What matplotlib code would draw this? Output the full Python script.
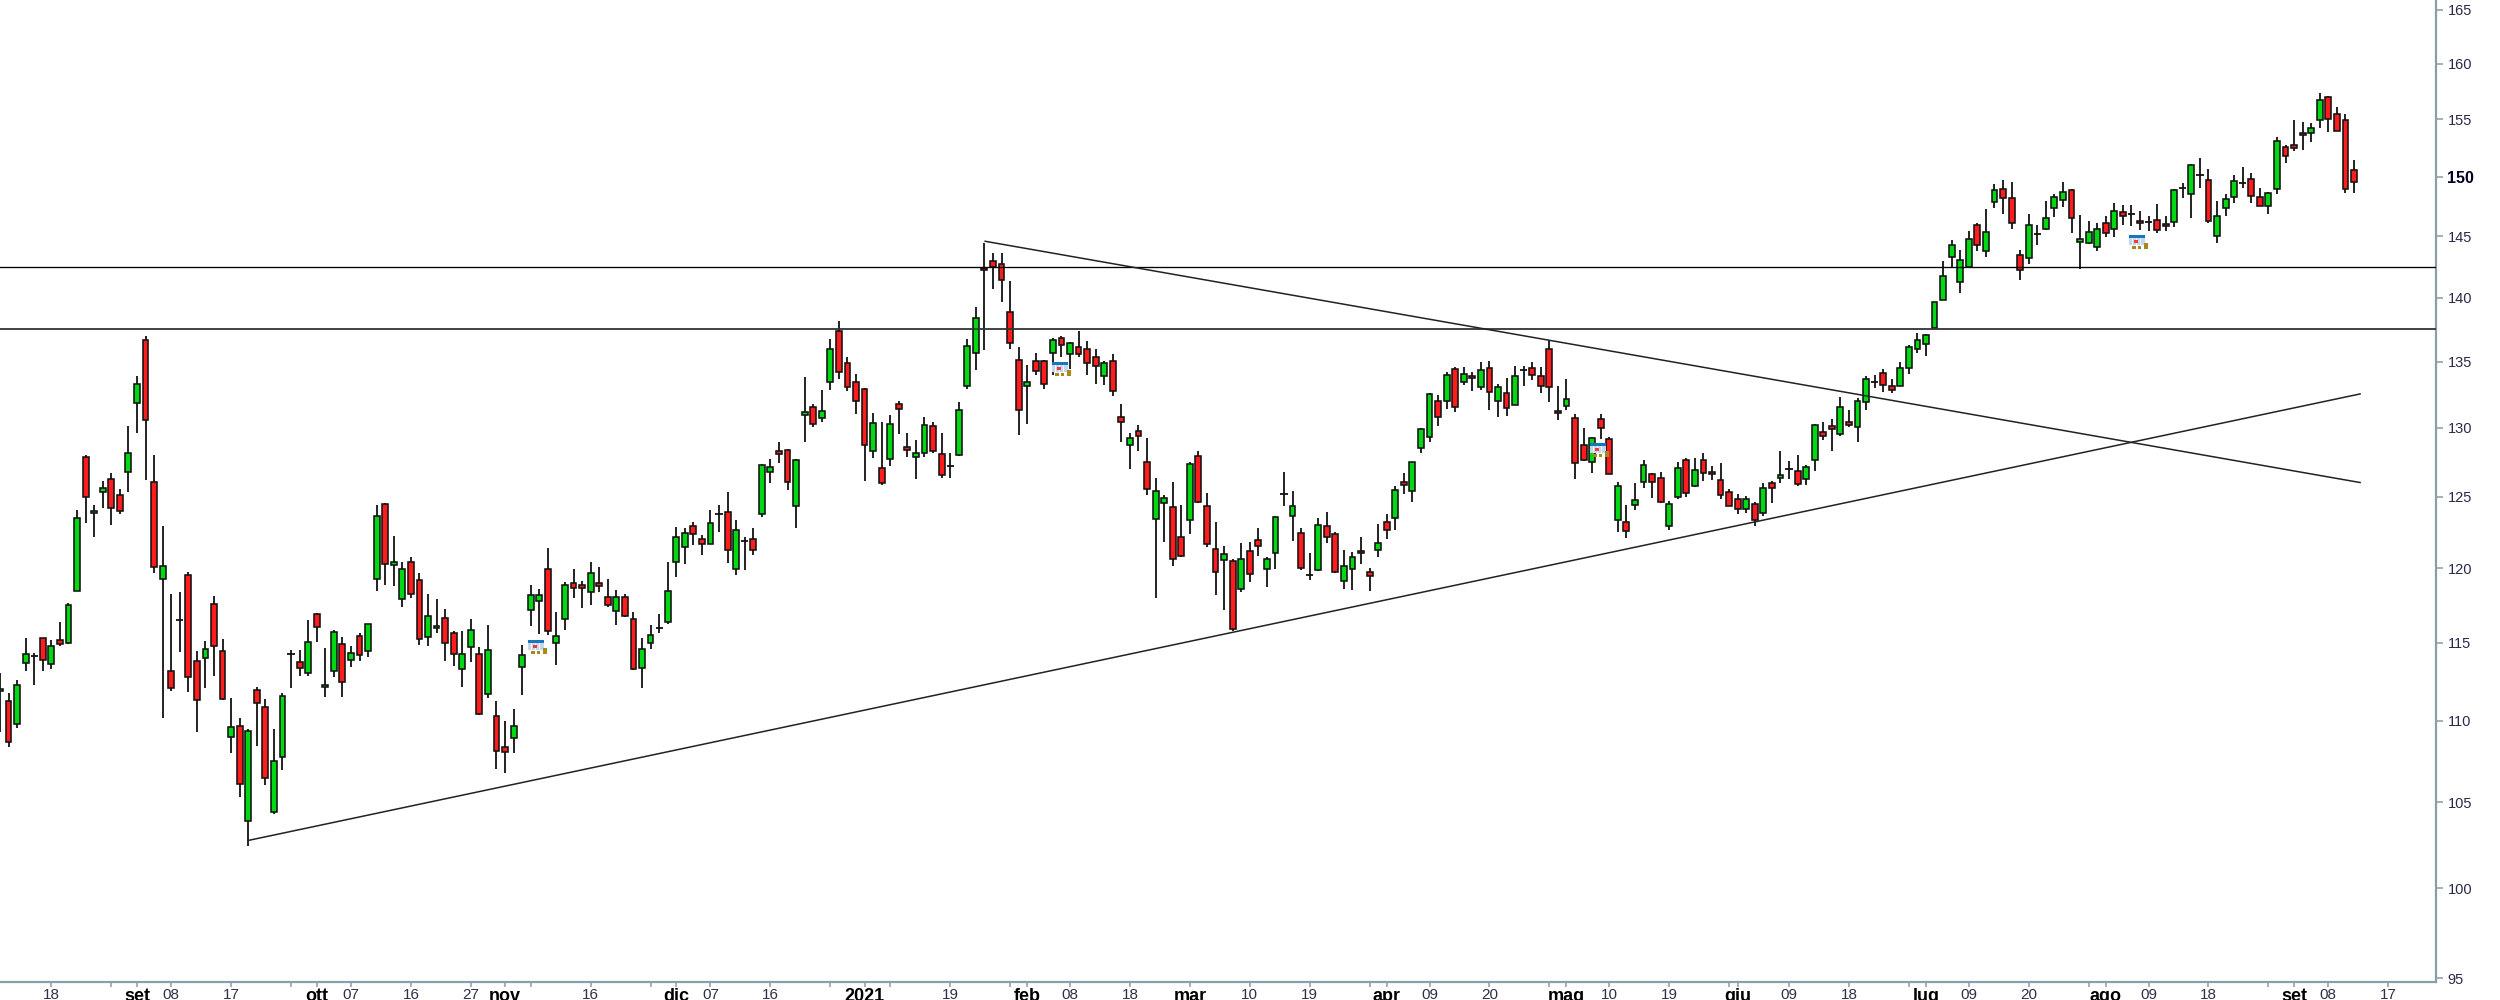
import numpy as np
import matplotlib
matplotlib.use("Agg")
import matplotlib.pyplot as plt
from matplotlib.offsetbox import OffsetImage, AnnotationBbox
from matplotlib.ticker import FixedLocator, NullLocator, FixedFormatter
from matplotlib import font_manager as fm

# (open, high, low, close) per session
aug_2020 = [(111.87,113.06,109.32,112.03),(111.23,111.74,108.40,108.71),(109.80,112.58,109.58,112.28),(113.72,115.29,113.17,114.27),(114.13,114.32,112.26,114.13),(115.29,115.33,113.17,113.86),(113.63,115.19,113.29,114.77),(115.19,116.39,114.82,114.91),(115.0,117.63,114.95,117.49),(118.44,124.08,118.44,123.51),(127.86,127.97,123.13,125.0),(123.86,124.38,122.19,123.98),(125.31,126.12,124.2,125.63),(126.28,126.69,122.96,124.18),(125.13,125.57,123.76,124.0),(126.77,130.16,125.34,128.18)]
sep_2020 = [(131.88,133.9,129.64,133.28),(136.69,137.02,126.17,130.56),(126.02,127.97,119.67,120.07),(119.26,122.94,110.16,120.12),(113.2,118.23,111.92,112.1),(116.53,118.4,114.43,116.53),(119.55,119.71,111.8,112.81),(113.84,114.5,109.28,111.32),(114.0,115.12,112.08,114.61),(117.56,118.11,112.83,114.77),(114.47,115.24,111.3,111.37),(109.01,111.46,108.0,109.63),(109.69,110.2,105.33,106.12),(103.87,109.47,102.43,109.36),(111.94,112.17,108.44,111.12),(110.87,111.39,106.03,106.47),(104.44,109.5,104.31,107.52),(107.74,111.74,106.95,111.58),(114.25,114.54,112.08,114.25),(113.77,114.54,112.83,113.38),(113.06,116.53,112.83,115.05)]
oct_2020 = [(116.89,116.96,115.05,116.03),(112.17,114.66,111.51,112.28),(113.15,115.86,112.76,115.72),(114.91,115.36,111.53,112.44),(113.86,114.77,113.4,114.34),(115.48,115.65,113.81,114.2),(114.47,116.24,114.09,116.22),(119.26,124.38,118.47,123.61),(124.45,124.53,118.88,120.32),(120.22,122.21,118.78,120.4),(117.94,120.4,117.39,119.93),(120.45,120.77,117.99,118.23),(119.19,119.67,114.89,115.24),(115.36,118.23,114.82,116.75),(115.96,117.94,115.67,116.08),(116.67,117.27,113.81,115.0),(115.65,115.77,113.52,114.29),(113.29,115.77,112.15,114.27),(114.72,116.56,113.74,115.84),(114.27,114.7,110.39,110.46),(111.69,116.15,111.46,114.54),(110.31,111.27,107.05,108.15)]
nov_2020 = [(108.4,110.0,106.75,108.08),(108.95,110.75,108.0,109.69),(113.45,114.87,111.66,114.18),(117.21,118.84,116.09,118.21),(117.79,118.62,115.56,118.15),(119.93,121.4,115.49,115.8),(114.98,117.05,113.55,115.42),(116.61,119.04,115.85,118.88),(119.02,119.93,117.99,118.68),(118.88,119.1,117.32,118.68),(118.39,120.4,117.54,119.69),(118.97,120.09,118.37,118.82),(118.08,119.26,117.39,117.5),(117.08,118.55,116.2,118.08),(118.08,118.26,116.72,116.76),(116.58,117.05,113.23,113.27),(113.38,115.29,112.07,114.62),(114.98,116.16,114.62,115.49),(116.0,116.92,115.62,116.0),(116.38,120.42,116.23,118.44)]
dec_2020 = [(120.4,122.86,119.4,122.14),(121.49,122.79,120.28,122.44),(122.91,123.19,121.6,122.4),(122.0,122.33,120.88,121.7),(121.7,124.02,121.68,123.14),(123.79,124.42,122.51,123.79),(123.91,125.34,120.35,121.26),(119.93,123.33,119.53,122.67),(121.86,122.16,119.91,121.86),(122.0,122.79,120.88,121.26),(123.79,127.35,123.53,127.28),(126.79,127.74,125.94,127.16),(128.26,128.94,127.4,128.04),(128.35,128.43,125.46,126.04),(124.37,127.69,122.81,127.64),(130.98,133.82,128.98,131.18),(131.54,131.79,130.08,130.3),(130.71,132.83,130.43,131.28),(133.41,136.73,132.86,135.99),(137.36,138.19,133.69,134.24),(134.87,135.34,132.78,133.06),(133.46,134.07,131.0,132.04)]
jan_2021 = [(132.88,132.96,126.09,128.77),(128.28,131.13,127.77,130.38),(127.08,130.4,125.8,125.94),(127.72,130.96,127.23,130.28),(131.79,131.97,129.54,131.39),(128.6,129.59,127.85,128.35),(127.87,129.1,126.26,128.18),(128.13,130.81,127.85,130.2),(130.13,130.4,128.13,128.26),(128.11,129.59,126.33,126.55),(127.23,128.13,126.33,127.23),(128.01,131.9,127.94,131.36),(133.11,136.73,132.93,136.18),(135.65,139.24,134.37,138.43),(142.4,144.43,135.91,142.21),(142.94,143.64,140.72,142.51),(142.75,143.64,139.68,141.45),(138.85,141.35,136.0,136.44),(135.13,136.13,129.5,131.3)]
feb_2021 = [(133.16,134.75,130.28,133.46),(135.03,135.65,133.94,134.32),(135.03,135.13,132.93,133.31),(135.65,136.81,133.97,136.7),(136.86,136.96,135.39,136.28),(135.57,136.52,134.45,136.44),(136.15,137.38,135.39,135.6),(136.0,136.57,133.94,134.87),(135.39,135.94,133.26,134.65),(133.92,135.08,133.19,134.87),(135.03,135.58,132.35,132.73),(130.78,131.81,128.98,130.4),(128.77,129.59,126.99,129.23),(129.78,130.23,128.33,129.39),(127.47,129.25,125.14,125.58),(123.4,126.31,118.0,125.39),(124.53,125.1,121.84,124.93),(124.23,126.07,120.12,120.63),(122.14,124.42,120.77,120.86)]
mar_2021 = [(123.33,127.47,122.37,127.32),(127.95,128.32,124.58,124.65),(124.37,125.24,121.47,121.7),(121.3,123.19,118.21,119.73),(120.54,121.56,117.17,121.0),(120.51,120.6,115.76,115.92),(118.62,121.74,118.37,120.65),(121.16,121.79,119.04,119.58),(121.93,122.79,120.81,121.56),(119.93,120.77,118.73,120.63),(121.02,123.6,119.98,123.56),(125.19,126.77,124.3,125.19),(123.63,125.43,121.91,124.3),(122.47,122.79,119.91,120.05),(119.51,121.05,119.22,119.51),(119.91,123.49,119.84,123.0),(122.93,123.88,121.74,122.16),(122.4,122.49,119.67,119.71),(119.13,121.23,118.59,120.14),(119.96,121.12,118.5,120.74),(121.21,122.16,120.3,121.02),(119.71,120.05,118.44,119.49),(121.26,123.09,120.74,121.77)]
apr_2021 = [(123.21,123.79,122.05,122.63),(123.49,125.73,122.67,125.46),(126.02,126.7,125.19,125.82),(125.41,127.47,124.65,127.47),(128.51,129.98,128.12,129.88),(129.3,132.64,128.98,132.54),(132.02,132.42,130.1,130.78),(132.0,134.24,131.44,133.97),(134.45,134.57,131.19,131.54),(133.41,134.57,133.19,134.03),(133.87,134.24,132.77,133.74),(133.06,135.0,132.85,134.37),(134.55,135.08,131.36,132.66),(131.97,133.31,130.83,133.04),(132.61,133.74,130.91,131.47),(131.73,134.67,131.71,133.87),(134.37,134.67,133.11,134.37),(134.53,135.0,133.61,133.94),(133.87,134.56,132.61,133.14),(135.99,136.7,131.96,133.06),(131.27,133.16,130.58,131.07)]
may_2021 = [(131.65,133.66,131.35,132.15),(130.71,131.06,126.26,127.42),(128.74,129.97,127.55,127.65),(127.48,129.33,126.69,129.27),(130.63,131.06,129.19,129.97),(129.15,129.35,126.6,126.62),(123.33,126.04,122.51,125.73),(123.23,124.42,122.07,122.56),(124.4,125.99,124.02,124.77),(126.04,127.66,125.63,127.25),(126.62,126.69,124.91,126.04),(126.36,126.77,124.53,124.6),(122.91,124.7,122.67,124.47),(125.0,127.47,124.84,127.08),(127.64,127.8,125.0,125.24),(125.77,127.76,125.7,126.91),(127.64,128.15,126.09,126.69),(126.77,127.18,126.16,126.62),(126.19,127.42,124.84,125.09),(125.3,125.56,124.3,124.37)]
jun_2021 = [(124.84,125.17,123.74,124.12),(124.12,125.02,123.84,124.84),(124.47,124.63,122.91,123.33),(123.84,125.99,123.6,125.63),(125.97,126.14,124.58,125.65),(126.36,128.3,125.94,126.55),(126.99,127.59,126.26,126.99),(126.82,127.98,125.73,125.9),(126.28,127.28,125.85,127.15),(127.64,130.3,126.82,130.23),(129.71,130.4,129.13,129.42),(130.1,130.65,128.26,129.88),(129.54,132.33,129.39,131.54),(130.45,131.33,130.08,130.23),(130.05,132.2,128.98,132.04),(131.9,133.87,131.35,133.66),(133.48,134.0,132.96,133.48),(134.16,134.4,132.66,133.18),(133.16,133.66,132.61,132.86),(133.16,134.97,133.11,134.53),(134.55,136.26,134.06,136.1),(135.94,137.23,135.63,136.65)]
jul_2021 = [(136.36,137.15,135.47,137.04),(137.64,139.7,137.64,139.7),(139.81,143.0,139.81,141.78),(143.3,144.67,142.37,144.27),(141.31,143.89,140.38,143.02),(142.51,145.42,142.37,144.81),(145.92,146.14,143.75,144.27),(143.83,147.27,143.34,145.36),(147.88,149.37,147.38,148.86),(148.97,149.73,146.85,148.24),(148.22,149.54,145.61,146.09),(143.46,143.86,141.41,142.22),(143.19,146.84,142.73,145.92),(145.22,145.92,144.32,145.22),(145.61,147.96,145.53,146.56),(147.32,148.52,146.62,148.32),(148.07,149.53,147.43,148.69),(148.88,148.94,145.25,146.56),(144.54,146.76,142.32,144.76),(144.43,146.31,144.35,145.36),(144.11,146.12,143.81,145.64)]
aug_2021 = [(146.09,146.7,144.97,145.31),(145.59,147.77,144.92,147.12),(147.04,147.6,145.95,146.65),(146.82,147.6,145.89,146.82),(146.28,147.12,145.53,146.09),(146.17,146.7,145.45,146.17),(146.37,147.68,145.25,145.56),(146.01,146.7,145.45,145.87),(146.17,148.97,145.81,148.88),(149.05,149.44,148.21,149.05),(148.52,151.13,146.48,151.05),(150.2,151.63,149.05,150.2),(149.69,150.67,146.09,146.28),(145.0,147.96,144.43,146.65),(147.4,148.52,146.73,148.13),(148.32,150.2,147.82,149.61),(149.5,150.87,149.02,149.5),(149.8,150.29,147.74,148.35),(148.32,149.08,147.49,147.51),(147.51,148.69,146.82,148.6),(148.97,153.46,148.55,153.08),(152.56,152.76,151.22,151.83)]
sep_2021 = [(152.76,154.91,152.27,152.5),(153.84,154.74,152.35,153.63),(153.78,154.65,153.02,154.22),(154.91,157.31,154.27,156.68),(156.98,157.07,153.92,155.06),(155.48,156.11,153.95,154.01),(154.97,155.51,148.66,148.97),(150.55,151.48,148.66,149.53)]

levels = [137.55, 142.45]
rising_line = ([29, 275.8], [102.75, 132.55])
falling_line = ([115, 275.8], [144.6, 126.0])
event_icons = [(62.9, 114.74), (124.06, 134.4), (186.9, 128.39), (249.9, 144.54)]

y_ticks = [95,100,105,110,115,120,125,130,135,140,145,150,155,160,165]
x_ticks = [6,13,16,20,27,34,37,41,48,55,59,62,69,76,79,83,90,97,101,104,111,118,120,125,132,139,146,153,160,162,167,174,181,183,188,195,202,203,209,216,223,225,230,237,244,246,251,258,265,268,272,279]
x_labels = ['18','','set','08','17','','ott','07','16','27','nov','','16','','dic','07','16','','2021','','19','','feb','08','18','mar','10','19','','apr','09','20','','mag','10','19','','giu','09','18','','lug','09','20','','ago','09','18','','set','08','17']
bold_labels = {'set','ott','nov','dic','2021','feb','mar','apr','mag','giu','lug','ago'}

ohlc = np.array(aug_2020+sep_2020+oct_2020+nov_2020+dec_2020+jan_2021+feb_2021+mar_2021+apr_2021+may_2021+jun_2021+jul_2021+aug_2021+sep_2021)
o, h, l, c = ohlc.T
idx = np.arange(len(ohlc))

names = {f.name for f in fm.fontManager.ttflist}
narrow = 'Liberation Sans Narrow' if 'Liberation Sans Narrow' in names else 'Liberation Sans'

fig = plt.figure(figsize=(25, 10), dpi=100, facecolor='white')
ax = fig.add_axes([0, 1-982/1000, 2436/2500, 982/1000])
ax.set_yscale('log')
ax.set_xlim(0, 2436/8.56)
ax.set_ylim(95*np.exp(-4/1754), 95*np.exp(978/1754))

ax.vlines(idx, l, h, color='#111111', lw=1.3, zorder=2)
up = c > o
down = c < o
ax.bar(idx[up], (c-o)[up], bottom=o[up], width=0.68, color='#00d814', edgecolor='#111111', lw=1.15, zorder=3)
ax.bar(idx[down], (o-c)[down], bottom=c[down], width=0.68, color='#ff1c1c', edgecolor='#111111', lw=1.15, zorder=3)
flat = c == o
ax.hlines(o[flat], idx[flat]-0.42, idx[flat]+0.42, color='#111111', lw=1.3, zorder=3)

for lv, col, w in zip(levels, ['#333333', '#000000'], [1.3, 0.95]):
    ax.axhline(lv, color=col, lw=w, zorder=4)
for xs, ys in (rising_line, falling_line):
    ax.plot(xs, ys, color='#222222', lw=1.1, zorder=4, solid_capstyle='butt')

# small calendar-and-coins event marker
ico = np.ones((14, 20, 4))
ico[..., 3] = 0
ico[0:3, 0:16] = (0.10, 0.46, 0.74, 1)
ico[3:10, 0:16] = (0.76, 0.85, 0.93, 1)
ico[3:10, [3, 7, 11]] = (0.95, 0.97, 1, 1)
ico[5:8, 5:9] = (0.98, 0.22, 0.22, 1)
gold = (0.66, 0.54, 0.10, 1)
ico[11:14, 3:7] = gold
ico[11:14, 9:12] = gold
ico[8:14, 15:19] = gold
for xy in event_icons:
    ax.add_artist(AnnotationBbox(OffsetImage(ico, zoom=1, dpi_cor=False, interpolation='nearest'), xy, frameon=False, pad=0, zorder=5))

for s in ('top', 'left'):
    ax.spines[s].set_visible(False)
for s in ('right', 'bottom'):
    ax.spines[s].set_color('#8a9ea8')
    ax.spines[s].set_linewidth(1.6)

ax.yaxis.tick_right()
ax.yaxis.set_major_locator(FixedLocator(y_ticks))
ax.yaxis.set_major_formatter(FixedFormatter([str(v) for v in y_ticks]))
ax.yaxis.set_minor_locator(NullLocator())
ax.tick_params(axis='y', which='major', length=4.7, width=1.1, color='#8a9ea8', pad=3.5, labelsize=10.5, labelcolor='#2a2a4a', labelfontfamily='Liberation Sans')
for t, v in zip(ax.get_yticklabels(), y_ticks):
    if v == 150:
        t.set_fontweight('bold')
        t.set_color('#000022')
        t.set_fontsize(11.5)

ax.set_xticks(x_ticks)
ax.set_xticklabels(x_labels)
ax.tick_params(axis='x', which='major', length=3.6, width=1.1, color='#8a9ea8', pad=0.5, labelsize=11, labelcolor='#30304a', labelfontfamily=narrow)
for t, s in zip(ax.get_xticklabels(), x_labels):
    if s in bold_labels:
        t.set_fontweight('bold')
        t.set_color('#000000')
        t.set_fontsize(13)

fig.savefig('out.png', dpi=100, facecolor='white')
